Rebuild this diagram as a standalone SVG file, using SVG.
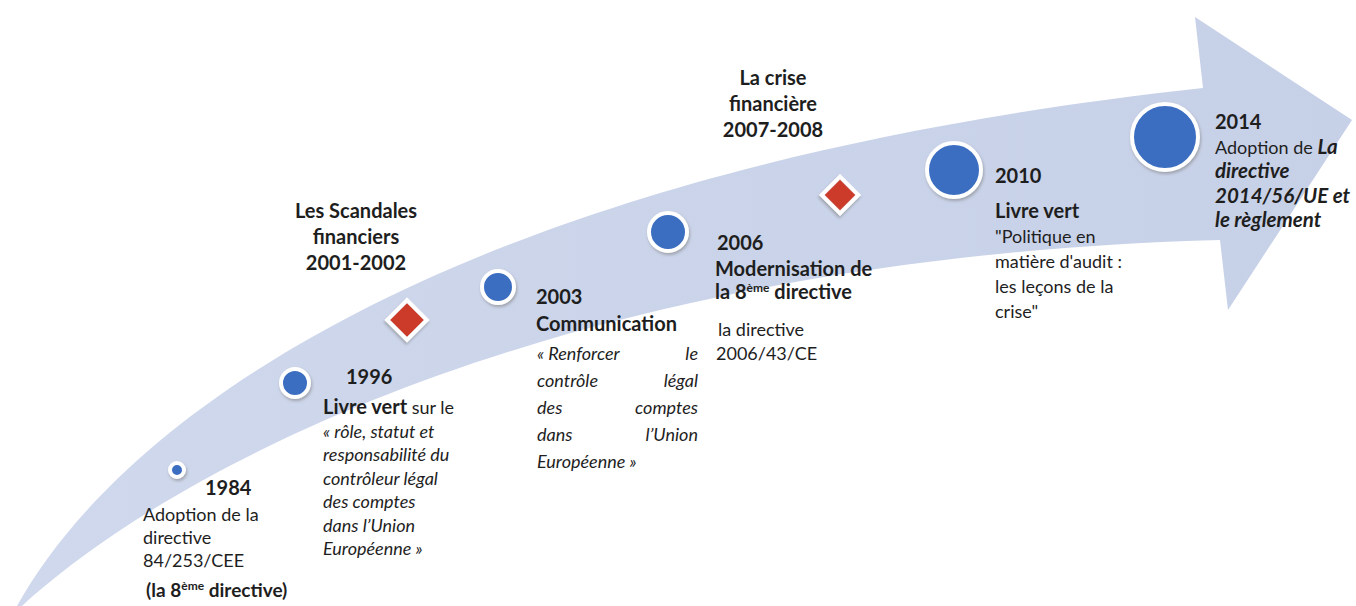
<svg xmlns="http://www.w3.org/2000/svg" width="1356" height="606" viewBox="0 0 1356 606">
<style>
  text { font-family: Lato, "Liberation Sans", sans-serif; font-size: 18px; fill: #1e1e1e; }
  .b { font-weight: bold; font-size: 20px; }
  .i { font-style: italic; }
  .bi { font-weight: bold; font-style: italic; font-size: 20.5px; }
  .c { text-anchor: middle; }
  .e { text-anchor: end; }
  .sup { font-size: 12px; }
  .dot { fill: #3b6ec0; stroke: #ffffff; stroke-width: 4; filter: url(#sh); }
  .dia { fill: #cc3a2c; stroke: #ffffff; stroke-width: 4; filter: url(#sh); }
</style>
<defs>
  <linearGradient id="band" x1="0" y1="0" x2="1" y2="0">
    <stop offset="0" stop-color="#cfd8ec"/>
    <stop offset="1" stop-color="#c6d0e7"/>
  </linearGradient>
  <filter id="sh" x="-40%" y="-40%" width="180%" height="180%">
    <feDropShadow dx="1" dy="2" stdDeviation="1.8" flood-color="#7a7a7a" flood-opacity="0.55"/>
  </filter>
</defs>
<rect width="1356" height="606" fill="#ffffff"/>

<g id="timeline-arrow">
  <path d="M 17 606 C 120 420, 450 170, 1203 88 L 1195 17 L 1352 120 L 1228 310 L 1220 240 C 560 258, 170 470, 22 606 Z" fill="url(#band)"/>
</g>

<g id="connectors"></g>

<g id="node-1984">
  <circle class="dot" cx="177" cy="470" r="7" stroke-width="3"/>
  <text class="b" x="205" y="495">1984</text>
  <text x="143" y="521">Adoption de la</text>
  <text x="143" y="544">directive</text>
  <text x="143" y="567">84/253/CEE</text>
  <text class="b" x="146" y="597" style="font-size:19px">(la 8<tspan class="sup" dy="-7">ème</tspan><tspan dy="7"> directive)</tspan></text>
</g>

<g id="node-1996">
  <circle class="dot" cx="295" cy="383" r="14" stroke-width="3.5"/>
  <text class="b" x="346" y="384">1996</text>
  <text x="323" y="414"><tspan class="b">Livre vert</tspan> sur le</text>
  <text class="i" x="323" y="438">« rôle, statut et</text>
  <text class="i" x="323" y="461">responsabilité du</text>
  <text class="i" x="323" y="485">contrôleur légal</text>
  <text class="i" x="323" y="508">des comptes</text>
  <text class="i" x="323" y="532">dans l’Union</text>
  <text class="i" x="323" y="555">Européenne »</text>
</g>

<g id="node-scandales">
  <rect class="dia" x="393" y="306" width="28" height="28" transform="rotate(45 407 320)"/>
  <text class="b c" x="356" y="218">Les Scandales</text>
  <text class="b c" x="356" y="244">financiers</text>
  <text class="b c" x="356" y="270">2001-2002</text>
</g>

<g id="node-2003">
  <circle class="dot" cx="498" cy="287" r="16"/>
  <text class="b" x="536" y="304">2003</text>
  <text class="b" x="536" y="331">Communication</text>
  <text class="i" x="537" y="360">« Renforcer</text>
  <text class="i e" x="698" y="360">le</text>
  <text class="i" x="537" y="387">contrôle</text>
  <text class="i e" x="698" y="387">légal</text>
  <text class="i" x="537" y="414">des</text>
  <text class="i e" x="698" y="414">comptes</text>
  <text class="i" x="537" y="441">dans</text>
  <text class="i e" x="698" y="441">l’Union</text>
  <text class="i" x="537" y="468">Européenne »</text>
</g>

<g id="node-2006">
  <circle class="dot" cx="668" cy="232" r="19"/>
  <text class="b" x="717" y="250">2006</text>
  <text class="b" x="715" y="276">Modernisation de</text>
  <text class="b" x="715" y="299">la 8<tspan class="sup" dy="-7">ème</tspan><tspan dy="7"> directive</tspan></text>
  <text x="718" y="336">la directive</text>
  <text x="716" y="360">2006/43/CE</text>
</g>

<g id="node-crise">
  <rect class="dia" x="827" y="182" width="26" height="26" transform="rotate(45 840 195)"/>
  <text class="b c" x="773" y="85">La crise</text>
  <text class="b c" x="773" y="111">financière</text>
  <text class="b c" x="773" y="137">2007-2008</text>
</g>

<g id="node-2010">
  <circle class="dot" cx="954" cy="170" r="27"/>
  <text class="b" x="995" y="183">2010</text>
  <text class="b" x="995" y="218">Livre vert</text>
  <text x="995" y="243">"Politique en</text>
  <text x="995" y="268">matière d'audit :</text>
  <text x="995" y="293">les leçons de la</text>
  <text x="995" y="318">crise"</text>
</g>

<g id="node-2014">
  <circle class="dot" cx="1165" cy="137" r="33"/>
  <text class="b" x="1215" y="129">2014</text>
  <text x="1215" y="154">Adoption de <tspan class="bi">La</tspan></text>
  <text class="bi" x="1215" y="178">directive</text>
  <text class="bi" x="1215" y="203">2014/56/UE et</text>
  <text class="bi" x="1215" y="227">le règlement</text>
</g>
</svg>
